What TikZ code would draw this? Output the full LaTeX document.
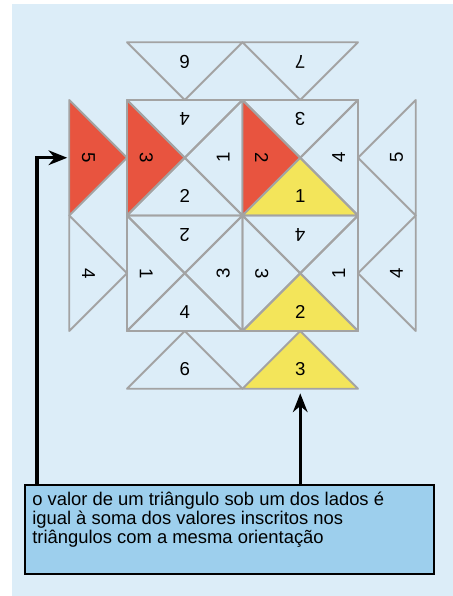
\documentclass[tikz,border=0pt]{standalone}
\usepackage{fontspec}
\setmainfont{Liberation Sans}
\usetikzlibrary{arrows.meta}
\definecolor{bgblue}{RGB}{220,237,248}
\definecolor{notefill}{RGB}{157,207,237}
\definecolor{trired}{RGB}{232,84,63}
\definecolor{triyellow}{RGB}{243,229,90}
\definecolor{edgegray}{RGB}{163,163,163}

\begin{document}
\begin{tikzpicture}[x=0.75pt, y=0.75pt, every node/.style={font=\fontsize{14}{16}\selectfont}, >={Stealth[length=14pt,width=11pt]},
	tri/.style={draw=edgegray, line width=1.4pt, line join=round},
	pointer/.style={->, line width=2.3pt},
	notebox/.style={draw, line width=1.5pt, fill=notefill, minimum width=306.75pt, minimum height=66.75pt, inner sep=0pt, anchor=north west},
	notetext/.style={font=\fontsize{13.8}{14.25}\selectfont, align=left, anchor=north west, inner sep=0pt}]
	\useasboundingbox (0,0) rectangle (453,596);
	\fill[bgblue] (12,0) rectangle (453,592);
	% apex x / apex y / direction to base / value / fill / name
	\foreach \ax/\ay/\d/\v/\c/\nm in {
		184.75/438.25/180/3/trired/a-l, 184.75/438.25/90/4/none/a-t, 184.75/438.25/0/1/none/a-r, 184.75/438.25/270/2/none/a-b,
		300.25/438.25/180/2/trired/b-l, 300.25/438.25/270/1/triyellow/b-b, 300.25/438.25/90/3/none/b-t, 300.25/438.25/0/4/none/b-r,
		184.75/322.75/90/2/none/c-t, 184.75/322.75/0/3/none/c-r, 184.75/322.75/270/4/none/c-b, 184.75/322.75/180/1/none/c-l,
		300.25/322.75/270/2/triyellow/d-b, 300.25/322.75/90/4/none/d-t, 300.25/322.75/0/1/none/d-r, 300.25/322.75/180/3/none/d-l,
		184.75/496/90/6/none/top-l, 300.25/496/90/7/none/top-r,
		184.75/265/270/6/none/bot-l, 300.25/265/270/3/triyellow/bot-r,
		127/438.25/180/5/trired/left-u, 127/322.75/180/4/none/left-d,
		358/438.25/0/5/none/right-u, 358/322.75/0/4/none/right-d} {
		\draw[tri, fill=\c] (\ax,\ay) -- ++({\d+45}:81.67) -- ++({\d-90}:115.5) -- cycle;
		\node[rotate=\d+90] (\nm) at ([shift={(\d:38.5)}]\ax,\ay) {\v};
		\coordinate (\nm-base) at ([shift={(\d:57.75)}]\ax,\ay);
	}
	% explanation box
	\node[notebox] (box) at (24,112) {};
	\node[notetext] (note) at ([shift={(8,-8)}]box.north west) {o valor de um triângulo sob um dos lados é\\ igual à soma dos valores inscritos nos\\ triângulos com a mesma orientação};
	\coordinate (elbow) at (37,438.25);
	\draw[pointer, shorten >=1.5pt] (elbow |- box.north) -- (elbow) -- (left-u-base);
	\draw[pointer, shorten >=3.5pt] (box.north -| bot-r-base) -- (bot-r-base);
\end{tikzpicture}
\end{document}
